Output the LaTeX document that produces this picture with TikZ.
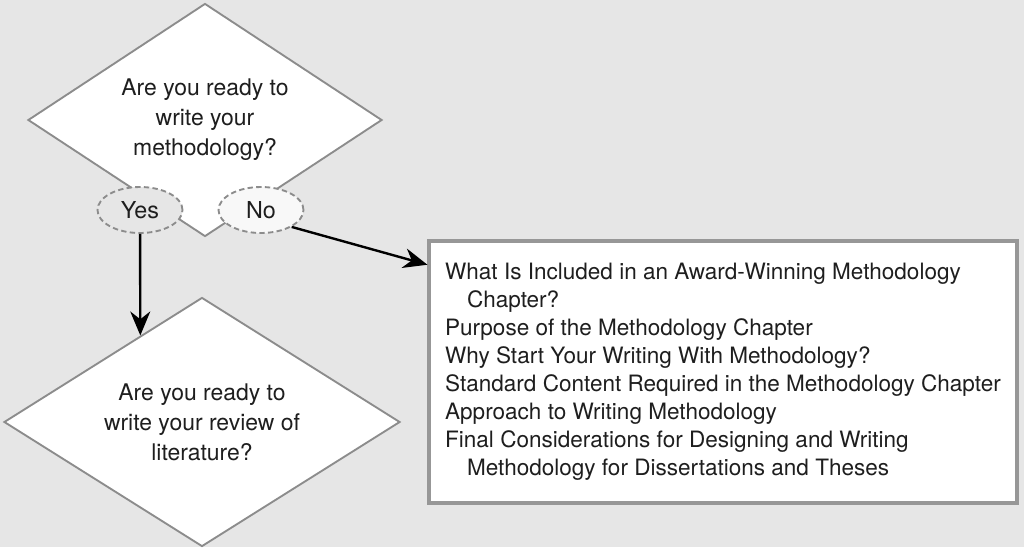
\documentclass[tikz,border=0pt]{standalone}
\usepackage{fontspec}
\setmainfont{TeX Gyre Heros}
\usetikzlibrary{shapes.geometric,arrows.meta,calc}
\definecolor{bgcol}{RGB}{230,230,230}
\definecolor{edgecol}{RGB}{140,140,140}
\definecolor{inkcol}{RGB}{30,30,30}
\tikzset{
  decision/.style={diamond, draw=edgecol, fill=white, line width=1.4pt, inner sep=0pt, align=center, text=inkcol, font=\fontsize{17.2}{22.5}\selectfont},
  answer/.style={ellipse, draw=edgecol, line width=1.4pt, dash pattern=on 4pt off 2.5pt, minimum width=63.75pt, minimum height=34.5pt, inner sep=0pt, text=inkcol, font=\fontsize{17.5}{19}\selectfont},
  topics/.style={draw=edgecol!90!white, fill=white, line width=2.4pt, minimum width=441pt, minimum height=196.5pt, inner xsep=2pt, align=left, text=inkcol, font=\fontsize{16.9}{21}\selectfont},
  flow/.style={draw=black, line width=1.8pt, -{Stealth[length=18pt, width=15pt]}}
}
\begin{document}
\begin{tikzpicture}[x=0.75pt, y=-0.75pt]
  \fill[bgcol] (0,0) rectangle (1024,547);
  \useasboundingbox (0,0) rectangle (1024,547);
  \node[decision, aspect=1.52, minimum width=265.5pt, minimum height=174.75pt] (method) at (205,120) {Are you ready to\\write your\\methodology?};
  \node[decision, aspect=1.59, minimum width=297pt, minimum height=186.75pt] (review) at (202,422) {Are you ready to\\write your review of\\literature?};
  \node[answer, fill=bgcol] (yes) at (140,210) {Yes};
  \node[answer, fill=white!70!bgcol] (no) at (261,210) {No};
  \node[topics] (list) at (723,372) {What Is Included in an Award-Winning Methodology\\
    \hspace*{0.97em}Chapter?\\
    Purpose of the Methodology Chapter\\
    Why Start Your Writing With Methodology?\\
    Standard Content Required in the Methodology Chapter\\
    Approach to Writing Methodology\\
    Final Considerations for Designing and Writing\\
    \hspace*{0.97em}Methodology for Dissertations and Theses};
  \coordinate (listin) at ($(list.north west)+(0,-19pt)$);
  \draw[flow] (yes) -- ($(review.west)!0.69!(review.north)$);
  \draw[flow] (no.south east) -- (listin);
\end{tikzpicture}
\end{document}
